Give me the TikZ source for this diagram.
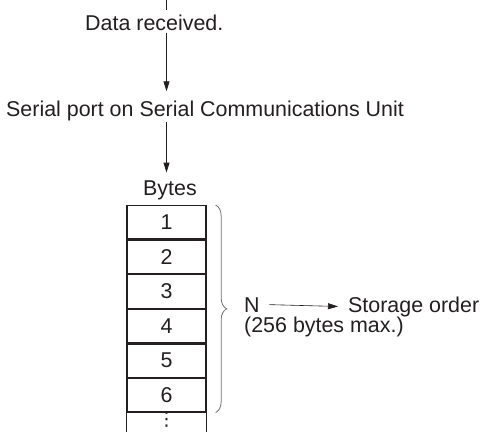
\documentclass[tikz,border=0pt]{standalone}
\usepackage{fontspec}
\setmainfont{Liberation Sans}
\newfontfamily\symfont{DejaVu Sans}
\usepackage{tikz}
\usetikzlibrary{arrows.meta, positioning, decorations.pathreplacing}
\definecolor{mydark}{RGB}{35,31,32}
\definecolor{mygray}{RGB}{110,110,110}
\tikzset{
  txt/.style={font=\fontsize{21.5}{20}\selectfont, inner sep=0pt, text=mydark},
  cell/.style={rectangle, draw=mydark, line width=1.3pt, minimum width=79bp,
    minimum height=33.3bp, inner sep=0pt, font=\fontsize{21.5}{20}\selectfont, text=mydark},
  arrow/.style={-{Triangle[length=10bp, width=6bp]}, line width=0.9pt, color=mydark},
  line/.style={draw, line width=0.9pt, color=mydark}
}

\begin{document}
\begin{tikzpicture}[x=1bp, y=-1bp]
  \useasboundingbox (0,0) rectangle (485,432);

  % Incoming data
  \coordinate (top) at (166.5,0);
  \node[txt, anchor=base west] (recv) at (85,30) {Data received.};
  \node[txt, anchor=base west] (port) at (6,116) {Serial port on Serial Communications Unit};
  \node[txt, anchor=base west] (bytes) at (143,195) {Bytes};

  % Byte column
  \node[cell, anchor=north] (c1) at (166.5,205) {1};
  \node[cell, below=0pt of c1] (c2) {2};
  \node[cell, below=0pt of c2] (c3) {3};
  \node[cell, below=0pt of c3] (c4) {4};
  \node[cell, below=0pt of c4] (c5) {5};
  \node[cell, below=0pt of c5] (c6) {6};
  \coordinate (endl) at (c6.south west |- 0,432);
  \coordinate (endr) at (c6.south east |- 0,432);
  \draw[line, line width=1.3pt] (c6.south west) -- (endl);
  \draw[line, line width=1.3pt] (c6.south east) -- (endr);
  \node[txt, font=\symfont\fontsize{19}{20}\selectfont] (dots) at (166.5,420) {⋮};

  % Brace and storage note
  \draw[mygray, line width=0.8pt, decorate, decoration={brace, amplitude=11bp}]
    ([xshift=9bp]c1.north east) -- ([xshift=9bp]c6.south east);
  \node[txt, anchor=base west] (nlbl) at (244,312) {N};
  \node[txt, anchor=base west] (maxlbl) at (244,332) {(256 bytes max.)};
  \node[txt, anchor=base west] (store) at (348,312) {Storage order};

  % Connections
  \draw[line] (top) -- ([yshift=4bp]recv.north -| top);
  \draw[arrow] ([yshift=-2.5bp]recv.south -| top) -- ([yshift=9bp]port.north -| top);
  \draw[arrow] ([yshift=-1bp]port.south -| top) -- ([yshift=7.5bp]bytes.north -| top);
  \draw[arrow, line width=0.6pt] ([xshift=9.5bp]nlbl.east) -- ([xshift=-10bp]store.west);
\end{tikzpicture}
\end{document}
